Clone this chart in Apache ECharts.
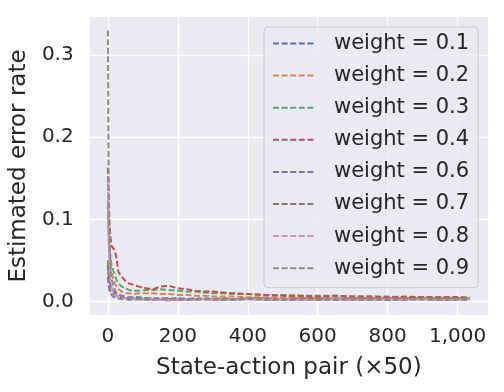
<!DOCTYPE html>
<html>
<head>
<meta charset="utf-8">
<script src="https://cdn.jsdelivr.net/npm/echarts@6/dist/echarts.min.js"></script>
<style>
  html, body { margin: 0; padding: 0; background: #ffffff; }
  #chart { width: 504px; height: 392px; }
</style>
</head>
<body>
<div id="chart"></div>
<script>
// state-action pair index (x50)
var steps = [0, 2, 4, 7, 10, 15, 20, 25, 30, 40, 50, 60, 75, 90, 110, 130, 150, 175, 200, 225,
             250, 275, 300, 330, 360, 400, 450, 500, 550, 600, 650, 700, 750, 800, 850, 900, 950, 1000, 1035];

var w01 = [0.045, 0.034, 0.026, 0.020, 0.016, 0.013, 0.011, 0.009, 0.008, 0.007,
           0.006, 0.005, 0.005, 0.005, 0.004, 0.004, 0.004, 0.003, 0.004, 0.003,
           0.003, 0.004, 0.003, 0.003, 0.003, 0.003, 0.003, 0.003, 0.003, 0.003,
           0.002, 0.003, 0.003, 0.002, 0.003, 0.003, 0.002, 0.003, 0.003];
var w02 = [0.118, 0.080, 0.055, 0.042, 0.036, 0.028, 0.022, 0.018, 0.015, 0.012,
           0.010, 0.010, 0.009, 0.010, 0.010, 0.010, 0.009, 0.009, 0.008, 0.008,
           0.007, 0.007, 0.006, 0.006, 0.006, 0.005, 0.005, 0.005, 0.005, 0.004,
           0.004, 0.004, 0.004, 0.004, 0.004, 0.004, 0.003, 0.004, 0.003];
var w03 = [0.124, 0.090, 0.070, 0.055, 0.045, 0.038, 0.032, 0.026, 0.022, 0.018,
           0.016, 0.014, 0.013, 0.013, 0.014, 0.014, 0.015, 0.014, 0.013, 0.012,
           0.012, 0.011, 0.010, 0.010, 0.009, 0.009, 0.008, 0.008, 0.007, 0.007,
           0.007, 0.006, 0.006, 0.006, 0.005, 0.005, 0.005, 0.005, 0.005];
var w04 = [0.163, 0.130, 0.100, 0.080, 0.068, 0.065, 0.062, 0.052, 0.036, 0.030,
           0.025, 0.022, 0.020, 0.018, 0.016, 0.015, 0.018, 0.019, 0.016, 0.015,
           0.013, 0.012, 0.012, 0.011, 0.010, 0.009, 0.008, 0.007, 0.007, 0.006,
           0.007, 0.006, 0.006, 0.005, 0.006, 0.005, 0.005, 0.005, 0.004];
var w06 = [0.030, 0.020, 0.014, 0.010, 0.008, 0.006, 0.005, 0.004, 0.004, 0.003,
           0.003, 0.002, 0.002, 0.003, 0.002, 0.002, 0.002, 0.003, 0.002, 0.002,
           0.002, 0.003, 0.002, 0.002, 0.002, 0.003, 0.002, 0.002, 0.002, 0.002,
           0.003, 0.002, 0.002, 0.002, 0.002, 0.003, 0.002, 0.002, 0.002];
var w07 = [0.050, 0.030, 0.018, 0.013, 0.010, 0.008, 0.009, 0.007, 0.006, 0.005,
           0.004, 0.004, 0.004, 0.003, 0.004, 0.003, 0.003, 0.004, 0.003, 0.003,
           0.004, 0.003, 0.003, 0.004, 0.003, 0.004, 0.004, 0.003, 0.004, 0.004,
           0.004, 0.004, 0.004, 0.004, 0.004, 0.004, 0.004, 0.004, 0.004];
var w08 = [0.144, 0.090, 0.050, 0.025, 0.018, 0.012, 0.008, 0.006, 0.005, 0.004,
           0.004, 0.003, 0.003, 0.002, 0.003, 0.002, 0.002, 0.001, 0.002, 0.002,
           0.002, 0.003, 0.002, 0.002, 0.002, 0.003, 0.002, 0.003, 0.002, 0.002,
           0.003, 0.002, 0.002, 0.003, 0.002, 0.003, 0.002, 0.002, 0.003];
var w09 = [0.330, 0.160, 0.090, 0.050, 0.030, 0.020, 0.014, 0.010, 0.008, 0.006,
           0.005, 0.004, 0.004, 0.003, 0.003, 0.003, 0.003, 0.002, 0.003, 0.002,
           0.003, 0.002, 0.003, 0.002, 0.002, 0.003, 0.002, 0.002, 0.003, 0.002,
           0.002, 0.003, 0.002, 0.002, 0.003, 0.002, 0.002, 0.003, 0.002];

var xTicks = [0, 200, 400, 600, 800, 1000];
var yTicks = [0.0, 0.1, 0.2, 0.3];

var names = ['weight = 0.1', 'weight = 0.2', 'weight = 0.3', 'weight = 0.4',
             'weight = 0.6', 'weight = 0.7', 'weight = 0.8', 'weight = 0.9'];
var values = [w01, w02, w03, w04, w06, w07, w08, w09];
var colors = ['#4C72B0', '#DD8452', '#55A868', '#C44E52', '#8172B3', '#937860', '#DA8BC3', '#8C8C8C'];

var font = 'DejaVu Sans';
var ink = '#262626';

var series = names.map(function (n, i) {
    return {
        name: n,
        type: 'line',
        data: steps.map(function (s, j) { return [s, values[i][j]]; }),
        showSymbol: false,
        symbol: 'none',
        clip: false,
        lineStyle: { color: colors[i], width: 2, type: [6, 2.6] },
        itemStyle: { color: colors[i] },
        animation: false
    };
});

var chart = echarts.init(document.getElementById('chart'));
chart.setOption({
    animation: false,
    color: colors,
    grid: {
        left: 87, right: 16, top: 17, bottom: 77,
        show: true, backgroundColor: '#EAEAF2', borderWidth: 0
    },
    xAxis: {
        type: 'value',
        min: -52, max: 1087,
        name: 'State-action pair (\u00d750)',
        nameLocation: 'middle',
        nameGap: 42,
        nameTextStyle: { fontFamily: font, fontSize: 23, color: ink },
        axisLine: { show: false },
        axisTick: { show: false, customValues: xTicks },
        axisLabel: { customValues: xTicks, fontFamily: font, fontSize: 20, color: ink, margin: 12 },
        splitLine: { show: true, lineStyle: { color: '#ffffff', width: 1.3 } }
    },
    yAxis: {
        type: 'value',
        min: -0.0165, max: 0.3465,
        name: 'Estimated error rate',
        nameLocation: 'middle',
        nameGap: 57,
        nameTextStyle: { fontFamily: font, fontSize: 23, color: ink },
        axisLine: { show: false },
        axisTick: { show: false, customValues: yTicks },
        axisLabel: {
            customValues: yTicks, fontFamily: font, fontSize: 20, color: ink, margin: 16,
            formatter: function (v) { return v.toFixed(1); }
        },
        splitLine: { show: true, lineStyle: { color: '#ffffff', width: 1.3 } }
    },
    legend: {
        orient: 'vertical',
        left: 264, top: 27,
        padding: [6, 9, 9, 8],
        itemWidth: 41, itemHeight: 20, itemGap: 11.1,
        backgroundColor: 'rgba(234,234,242,0.8)',
        borderColor: '#cccccc', borderWidth: 1, borderRadius: 4,
        itemStyle: { opacity: 0 },
        textStyle: { fontFamily: font, fontSize: 21, color: ink, lineHeight: 20, padding: [0, 0, 0, 15] },
        data: names
    },
    series: series
});
</script>
</body>
</html>
